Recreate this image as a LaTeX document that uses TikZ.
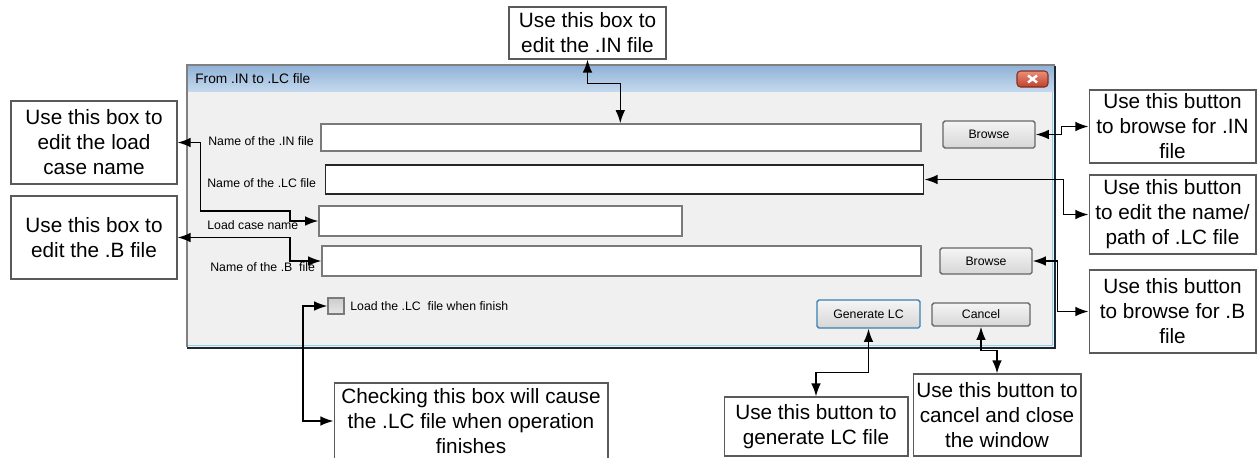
\documentclass[tikz,border=0pt]{standalone}
\usepackage{fontspec}
\setmainfont{Liberation Sans}
\usetikzlibrary{arrows.meta}

\definecolor{winbody}{HTML}{F0F0F0}
\definecolor{titletop}{HTML}{8FB1D6}
\definecolor{titlebot}{HTML}{C6DAEE}
\definecolor{noteline}{HTML}{5A5A5A}
\definecolor{fieldline}{HTML}{7A7A7A}
\definecolor{focusblue}{HTML}{3C7FB1}
\definecolor{edgecyan}{HTML}{8ED3EA}
\definecolor{edgedark}{HTML}{1B2733}
\definecolor{closetop}{HTML}{E8907C}
\definecolor{closebot}{HTML}{C0412B}

\tikzset{
  note/.style={draw=noteline, line width=0.6pt, fill=white, align=center, inner sep=0pt,
    font=\fontsize{11.8}{14.2}\selectfont},
  field/.style={draw=fieldline, line width=0.8pt, fill=white, inner sep=0pt},
  button/.style={draw=black!60, line width=0.8pt, top color=white!96!black, bottom color=black!16,
    rounded corners=1pt, inner sep=0pt, font=\fontsize{7}{8}\selectfont},
  dlgtext/.style={anchor=west, inner sep=0pt, font=\fontsize{7}{8}\selectfont},
  conn/.style={{Latex[length=7.5pt,width=5.5pt]}-{Latex[length=7.5pt,width=5.5pt]}, line width=0.9pt},
}

\begin{document}
\begin{tikzpicture}[x=0.02cm, y=-0.02cm]
  \useasboundingbox (0,0) rectangle (1257,457);

  % Draw the dialog window
  \shade[top color=titletop, bottom color=titlebot] (187,65) rectangle (1055,92);
  \fill[winbody] (187,92) rectangle (1055,347);
  \draw[edgecyan, line width=1pt] (188,345.5) -- (1052.5,345.5) -- (1052.5,92);
  \draw[black!50, line width=0.6pt] (187,347) -- (187,65) -- (1055,65);
  \draw[edgedark, line width=1.3pt] (187,348) -- (1055,348) -- (1055,66);
  \node[dlgtext, font=\fontsize{7.8}{9}\selectfont] (title) at (195,79) {From .IN to .LC file};
  \node[draw=closebot!70!black, line width=0.6pt, top color=closetop, bottom color=closebot,
        rounded corners=2pt, minimum width=0.62cm, minimum height=0.32cm, inner sep=0pt]
        (closeBtn) at (1032.5,79) {};
  \draw[white, line width=1.4pt] (1028,75.5) -- (1037,82.5) (1028,82.5) -- (1037,75.5);

  % Fields and their labels
  \node[dlgtext] (inLabel) at (208,141) {Name of the .IN file};
  \node[field, minimum width=12cm, minimum height=0.54cm] (inField) at (621,137.5) {};
  \node[dlgtext] (lcLabel) at (207,183) {Name of the .LC file};
  \node[field, draw=black!85, line width=0.6pt, minimum width=11.98cm, minimum height=0.58cm] (lcField) at (624.5,179.5) {};
  \node[dlgtext] (caseLabel) at (207,225) {Load case name};
  \node[field, minimum width=7.26cm, minimum height=0.6cm] (caseField) at (500.5,221) {};
  \node[dlgtext] (bLabel) at (210,267) {Name of the .B~ file};
  \node[field, minimum width=11.98cm, minimum height=0.6cm] (bField) at (621.5,261) {};

  % Buttons and check box
  \node[button, minimum width=1.84cm, minimum height=0.54cm] (browseIn) at (989,134.5) {Browse};
  \node[button, minimum width=1.84cm, minimum height=0.52cm] (browseB) at (986,261) {Browse};
  \node[button, draw=focusblue, minimum width=2.06cm, minimum height=0.56cm] (genBtn) at (868.5,314) {Generate LC};
  \node[button, minimum width=1.96cm, minimum height=0.46cm] (cancelBtn) at (981,314.5) {Cancel};
  \node[field, top color=black!20, bottom color=white!90!black, minimum size=0.32cm] (checkBox) at (336,306) {};
  \node[dlgtext] (checkLabel) at (350,306) {Load the .LC~ file when finish};

  % Callout boxes
  \node[note, minimum width=3.14cm, minimum height=1.04cm] (inNote) at (587.5,33)
    {Use this box to\\edit the .IN file};
  \node[note, minimum width=3.32cm, minimum height=1.66cm] (caseNote) at (94,142.5)
    {Use this box to\\edit the load\\case name};
  \node[note, minimum width=3.32cm, minimum height=1.66cm] (bNote) at (94,237.5)
    {Use this box to\\edit the .B file};
  \node[note, minimum width=3.34cm, minimum height=1.46cm] (browseInNote) at (1172.5,126.5)
    {Use this button\\to browse for .IN\\file};
  \node[note, minimum width=3.34cm, minimum height=1.58cm] (lcNote) at (1172.5,214.5)
    {Use this button\\to edit the name/\\path of .LC file};
  \node[note, minimum width=3.34cm, minimum height=1.66cm] (browseBNote) at (1172.5,311.5)
    {Use this button\\to browse for .B\\file};
  \node[note, minimum width=5.48cm, minimum height=1.52cm] (checkNote) at (471,421)
    {Checking this box will cause\\the .LC file when operation\\finishes};
  \node[note, minimum width=3.68cm, minimum height=1.18cm] (genNote) at (816,426.5)
    {Use this button to\\generate LC file};
  \node[note, minimum width=3.36cm, minimum height=1.64cm] (cancelNote) at (997,415)
    {Use this button to\\cancel and close\\the window};

  % Connectors
  \draw[conn] (inNote.south) -- ++(0,24) -| ([xshift=6cm]inField.north west);
  \draw[conn] (caseNote.east) -- ++(23,0) |- (290,211) |- (caseField.west);
  \draw[conn] (bNote.east) -| (290,261) -- (bField.west);
  \draw[conn] (checkBox.west) -| (303,421) -- (checkNote.west);
  \draw[conn] (browseIn.east) -- ++(26,0) |- (browseInNote.west);
  \draw[conn] (lcField.east) -- ++(139,0) |- (lcNote.west);
  \draw[conn] (browseB.east) -- ++(25,0) |- (browseBNote.west);
  \draw[conn] (genBtn.south) -- ++(0,44) -| (genNote.north);
  \draw[conn] (cancelBtn.south) -- ++(0,24) -| (cancelNote.north);
\end{tikzpicture}
\end{document}
